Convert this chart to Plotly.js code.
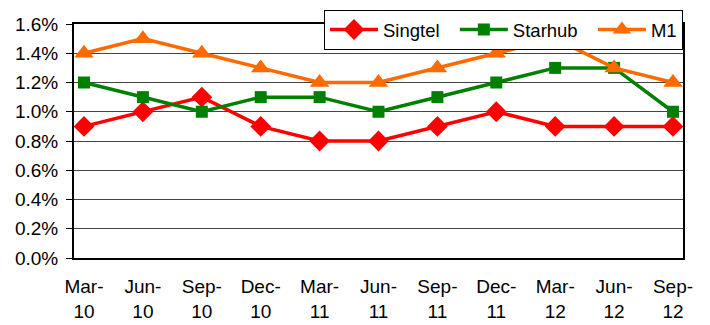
<!DOCTYPE html>
<html>
<head>
<meta charset="utf-8">
<script src="https://cdn.plot.ly/plotly-3.0.1.min.js"></script>
<style>
  html, body { margin: 0; padding: 0; background: #fff; }
  #chart { width: 710px; height: 325px; }
</style>
</head>
<body>
<div id="chart"></div>
<script>
// Quarterly values (percent) for the three operators
const quarters = ["Mar-<br>10", "Jun-<br>10", "Sep-<br>10", "Dec-<br>10", "Mar-<br>11", "Jun-<br>11",
                  "Sep-<br>11", "Dec-<br>11", "Mar-<br>12", "Jun-<br>12", "Sep-<br>12"];
const singtel = [0.9, 1.0, 1.1, 0.9, 0.8, 0.8, 0.9, 1.0, 0.9, 0.9, 0.9];
const starhub = [1.2, 1.1, 1.0, 1.1, 1.1, 1.0, 1.1, 1.2, 1.3, 1.3, 1.0];
const m1      = [1.4, 1.5, 1.4, 1.3, 1.2, 1.2, 1.3, 1.4, 1.5, 1.3, 1.2];
const yTicks  = [0, 0.2, 0.4, 0.6, 0.8, 1.0, 1.2, 1.4, 1.6];

const idx = quarters.map((_, i) => i);
const family = "Liberation Sans, Arial, sans-serif";
const pad = "\u00a0\u00a0"; // spacing between legend entries

function series(name, values, color, symbol, size) {
  return {
    x: idx, y: values, name: name, type: "scatter", mode: "lines+markers",
    line: { color: color, width: 3.5 },
    marker: { color: color, symbol: symbol, size: size, line: { width: 0 } },
    cliponaxis: false
  };
}

const data = [
  series("Singtel" + pad, singtel, "#ff0000", "diamond", 16),
  series("Starhub" + pad, starhub, "#008000", "square", 12),
  series("M1", m1, "#ff6a00", "triangle-up", 17)
];

const layout = {
  width: 710, height: 325,
  margin: { l: 74, r: 27, t: 24, b: 67, autoexpand: false },
  paper_bgcolor: "#fff", plot_bgcolor: "#fff",
  font: { family: family, color: "#000" },
  showlegend: true,
  legend: {
    orientation: "h", x: 1, xanchor: "right", y: 1.06, yanchor: "top",
    bgcolor: "#fff", bordercolor: "#000", borderwidth: 1,
    font: { family: family, size: 18.5, color: "#000" },
    itemwidth: 48
  },
  xaxis: {
    range: [-0.17, 10.17],
    tickmode: "array", tickvals: idx, ticktext: quarters,
    showgrid: false, zeroline: false,
    showline: true, linecolor: "#000", linewidth: 2, mirror: true,
    ticks: "", ticklabelstandoff: 10,
    tickfont: { family: family, size: 19, color: "#000" },
    fixedrange: true
  },
  yaxis: {
    range: [0, 1.6],
    tickmode: "array", tickvals: yTicks,
    ticktext: yTicks.map(v => v.toFixed(1) + "%"),
    showgrid: true, gridcolor: "#444", gridwidth: 1,
    zeroline: false,
    showline: true, linecolor: "#000", linewidth: 2, mirror: true,
    ticks: "outside", ticklen: 6, tickcolor: "#000", tickwidth: 1,
    ticklabelstandoff: 4,
    tickfont: { family: family, size: 19, color: "#000" },
    fixedrange: true
  }
};

Plotly.newPlot("chart", data, layout, { displayModeBar: false, staticPlot: true });
</script>
</body>
</html>
